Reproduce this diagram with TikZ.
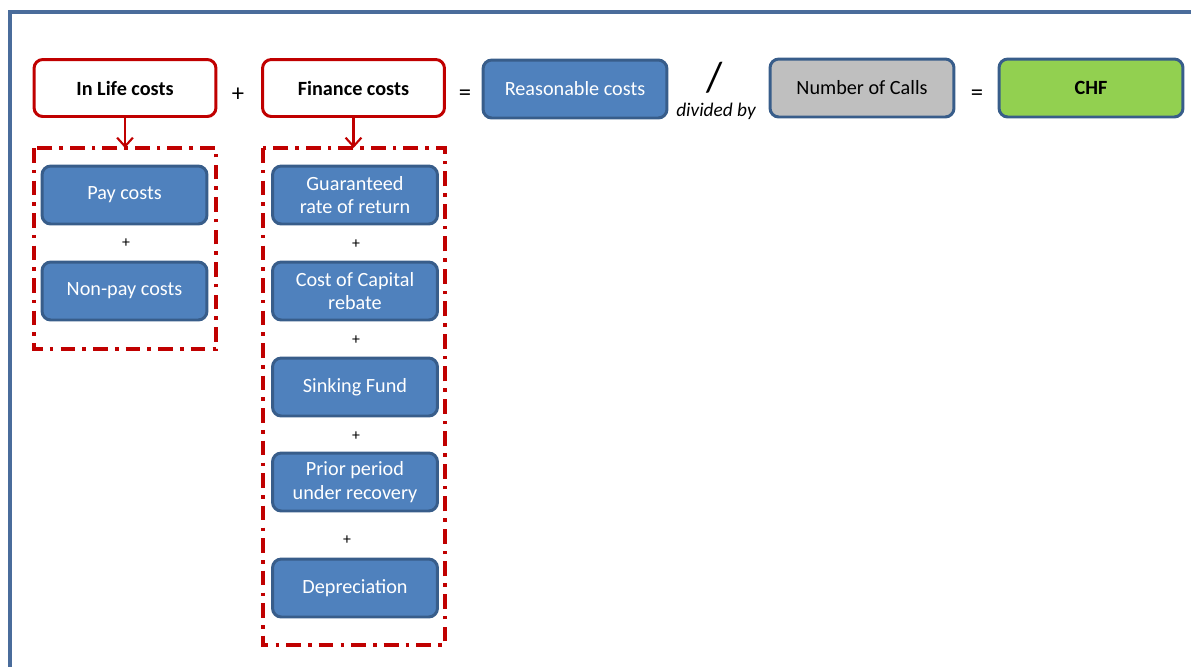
\documentclass[tikz,border=0pt]{standalone}
\usepackage{fontspec}
\setmainfont{Carlito}
\usetikzlibrary{arrows.meta}
\definecolor{framec}{HTML}{4A6C9B}
\definecolor{redc}{HTML}{C00000}
\definecolor{bluef}{HTML}{4F81BD}
\definecolor{blued}{HTML}{385D8A}
\definecolor{grayf}{HTML}{BFBFBF}
\definecolor{greenf}{HTML}{92D050}
\begin{document}
\begin{tikzpicture}
  [x=0.02cm,y=-0.02cm,
   every node/.style={font=\fontsize{11.5}{13.5}\selectfont},
   headbox/.style={draw=redc,line width=1.7pt,rounded corners=5pt,fill=white,
     minimum width=3.64cm,minimum height=1.14cm,font=\fontsize{11.5}{13.5}\selectfont\bfseries},
   sumbox/.style={draw=blued,line width=1.7pt,rounded corners=5pt,
     minimum width=3.68cm,minimum height=1.16cm},
   partbox/.style={draw=blued,line width=1.7pt,rounded corners=5pt,fill=bluef,text=white,
     minimum width=3.3cm,minimum height=1.16cm,align=center,inner sep=1pt},
   groupbox/.style={draw=redc,line width=2.1pt,dash pattern=on 8.5pt off 4pt on 2pt off 4pt},
   op/.style={font=\fontsize{14}{16}\selectfont},
   smallop/.style={font=\fontsize{9}{11}\selectfont}]
  \useasboundingbox (0,0) rectangle (1191,667);
  % frame
  \draw[framec,line width=1.9pt] (1191,12) -- (10,12) -- (10,667);

  % top row
  \node[headbox] (life) at (125,88) {In Life costs};
  \node[op] (p1) at (238,95) {+};
  \node[headbox] (fin) at (353.5,88) {Finance costs};
  \node[op] (e1) at (465,95) {=};
  \node[sumbox,fill=bluef,text=white] (reas) at (575,89) {Reasonable costs};
  \node[font=\fontsize{24}{26}\selectfont] (slash) at (715,78) {/};
  \node[font=\fontsize{11}{13}\selectfont\itshape] (div) at (716,111) {divided by};
  \node[sumbox,fill=grayf] (calls) at (862,88) {Number of Calls};
  \node[op] (e2) at (977,95) {=};
  \node[sumbox,fill=greenf,font=\fontsize{11.5}{13.5}\selectfont\bfseries] (chf) at (1091,88) {CHF};

  % groups
  \draw[groupbox] (34,148) rectangle (216,349);
  \draw[groupbox] (263,148) rectangle (445,645);
  \coordinate (g1) at (125,148);
  \coordinate (g2) at (353.5,148);

  % in life parts
  \node[partbox] (pay) at (124.5,195) {Pay costs};
  \node[smallop] (q1) at (126,243) {+};
  \node[partbox] (nonpay) at (124.5,291) {Non-pay costs};

  % finance parts
  \node[partbox] (guar) at (355,195) {Guaranteed\\rate of return};
  \node[smallop] (q2) at (356,244) {+};
  \node[partbox] (coc) at (355,291) {Cost of Capital\\rebate};
  \node[smallop] (q3) at (356,340) {+};
  \node[partbox] (sink) at (355,387) {Sinking Fund};
  \node[smallop] (q4) at (356,436) {+};
  \node[partbox] (prior) at (355,482) {Prior period\\under recovery};
  \node[smallop] (q5) at (347,540) {+};
  \node[partbox] (dep) at (355,588) {Depreciation};

  \foreach \from/\to in {life/g1,fin/g2}
    \draw[redc,line width=1.2pt,-{Straight Barb[length=5pt,width=9pt]}] (\from) -- (\to);
\end{tikzpicture}
\end{document}
